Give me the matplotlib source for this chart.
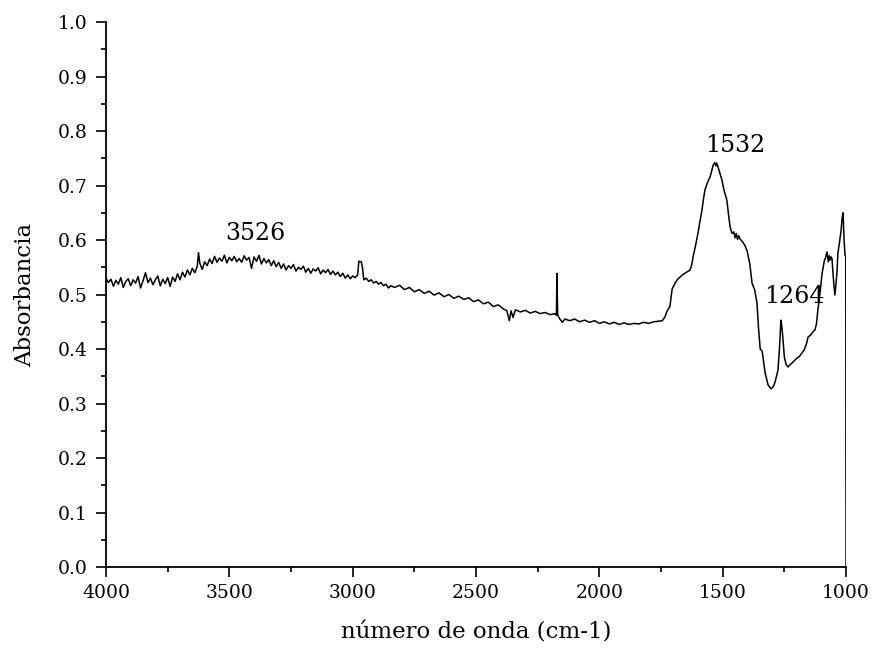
import matplotlib
matplotlib.use("Agg")
import matplotlib.pyplot as plt
from matplotlib.ticker import MultipleLocator

plt.rcParams['font.family'] = ['DejaVu Serif']

# Region 4000-2845 cm-1 (broad O-H band)
wn_a = [4000, 3990, 3980, 3970, 3960, 3950, 3940, 3930, 3920, 3910,
        3900, 3890, 3880, 3870, 3860, 3850, 3840, 3830, 3820, 3810,
        3800, 3790, 3780, 3770, 3760, 3750, 3740, 3730, 3720, 3710,
        3700, 3690, 3680, 3670, 3660, 3650, 3640, 3630, 3625, 3620,
        3610, 3600, 3590, 3580, 3570, 3560, 3550, 3540, 3530, 3520,
        3510, 3500, 3490, 3480, 3470, 3460, 3450, 3440, 3430, 3420,
        3410, 3400, 3390, 3380, 3370, 3360, 3350, 3340, 3330, 3320,
        3310, 3300, 3290, 3280, 3270, 3260, 3250, 3240, 3230, 3220,
        3210, 3200, 3190, 3180, 3170, 3160, 3150, 3140, 3130, 3120,
        3110, 3100, 3090, 3080, 3070, 3060, 3050, 3040, 3030, 3020,
        3010, 3000, 2990, 2980, 2975, 2965, 2960, 2955, 2945, 2935,
        2925, 2915, 2905, 2895, 2885, 2875, 2865, 2855, 2845]
abs_a = [0.530, 0.522, 0.528, 0.515, 0.526, 0.519, 0.531, 0.513, 0.524, 0.529,
         0.516, 0.527, 0.521, 0.533, 0.512, 0.525, 0.540, 0.522, 0.530, 0.518,
         0.527, 0.534, 0.516, 0.528, 0.520, 0.531, 0.515, 0.532, 0.524, 0.538,
         0.527, 0.541, 0.532, 0.545, 0.536, 0.548, 0.540, 0.552, 0.577, 0.558,
         0.546, 0.560, 0.553, 0.565, 0.557, 0.570, 0.559, 0.567, 0.561, 0.572,
         0.558, 0.568, 0.562, 0.570, 0.560, 0.566, 0.559, 0.571, 0.563, 0.568,
         0.548, 0.569, 0.561, 0.572, 0.556, 0.566, 0.558, 0.564, 0.553, 0.562,
         0.551, 0.559, 0.548, 0.556, 0.545, 0.553, 0.548, 0.555, 0.543, 0.550,
         0.546, 0.552, 0.541, 0.548, 0.539, 0.547, 0.543, 0.549, 0.538, 0.545,
         0.540, 0.546, 0.537, 0.543, 0.536, 0.541, 0.533, 0.539, 0.530, 0.536,
         0.529, 0.534, 0.531, 0.536, 0.561, 0.560, 0.548, 0.527, 0.530, 0.524,
         0.527, 0.521, 0.524, 0.519, 0.522, 0.516, 0.519, 0.512, 0.516]

# Region 2830-1760 cm-1 (sloping baseline, CO2 and 2172 spike)
wn_b = [2830, 2810, 2790, 2770, 2750, 2730, 2710, 2690, 2670, 2650,
        2630, 2610, 2590, 2570, 2550, 2530, 2510, 2490, 2470, 2450,
        2430, 2410, 2390, 2375, 2365, 2358, 2350, 2340, 2320, 2300,
        2280, 2260, 2240, 2220, 2200, 2180, 2174, 2172, 2169, 2160,
        2150, 2140, 2120, 2100, 2080, 2060, 2040, 2020, 2000, 1980,
        1960, 1940, 1920, 1900, 1880, 1860, 1840, 1820, 1800, 1780,
        1760]
abs_b = [0.513, 0.517, 0.509, 0.513, 0.505, 0.509, 0.502, 0.506, 0.499, 0.503,
         0.496, 0.500, 0.493, 0.497, 0.491, 0.494, 0.487, 0.490, 0.483, 0.486,
         0.478, 0.481, 0.474, 0.470, 0.452, 0.470, 0.458, 0.472, 0.468, 0.471,
         0.466, 0.469, 0.465, 0.467, 0.463, 0.465, 0.462, 0.539, 0.462, 0.455,
         0.449, 0.455, 0.452, 0.455, 0.450, 0.453, 0.449, 0.452, 0.447, 0.450,
         0.446, 0.449, 0.445, 0.448, 0.445, 0.447, 0.446, 0.449, 0.447, 0.450,
         0.451]

# Region 1745-1000 cm-1 (fingerprint bands)
wn_c = [1745, 1735, 1725, 1714, 1705, 1693, 1683, 1673, 1663, 1653,
        1643, 1632, 1625, 1620, 1610, 1600, 1592, 1584, 1578, 1572,
        1562, 1551, 1545, 1539, 1532, 1528, 1524, 1519, 1511, 1503,
        1495, 1483, 1476, 1470, 1462, 1455, 1450, 1445, 1440, 1435,
        1430, 1420, 1410, 1401, 1390, 1381, 1370, 1361, 1355, 1348,
        1340, 1328, 1316, 1304, 1295, 1288, 1276, 1270, 1264, 1260,
        1256, 1250, 1243, 1235, 1225, 1215, 1200, 1190, 1180, 1170,
        1160, 1154, 1145, 1135, 1126, 1120, 1114, 1105, 1097, 1088,
        1082, 1077, 1072, 1068, 1065, 1061, 1057, 1053, 1049, 1045,
        1041, 1037, 1033, 1027, 1020, 1016, 1012, 1008, 1004, 1001,
        1000]
abs_c = [0.452, 0.458, 0.470, 0.478, 0.510, 0.521, 0.528, 0.532, 0.536, 0.539,
         0.542, 0.545, 0.556, 0.569, 0.590, 0.613, 0.635, 0.655, 0.675, 0.692,
         0.705, 0.716, 0.726, 0.737, 0.742, 0.736, 0.741, 0.734, 0.722, 0.710,
         0.692, 0.673, 0.645, 0.624, 0.612, 0.615, 0.604, 0.612, 0.601, 0.608,
         0.602, 0.597, 0.590, 0.580, 0.556, 0.521, 0.508, 0.484, 0.440, 0.400,
         0.396, 0.356, 0.334, 0.327, 0.331, 0.339, 0.361, 0.400, 0.453, 0.440,
         0.420, 0.385, 0.372, 0.367, 0.372, 0.376, 0.383, 0.386, 0.392, 0.398,
         0.410, 0.422, 0.425, 0.431, 0.435, 0.446, 0.472, 0.505, 0.539, 0.562,
         0.569, 0.578, 0.560, 0.571, 0.563, 0.569, 0.566, 0.539, 0.515, 0.499,
         0.520, 0.539, 0.576, 0.594, 0.618, 0.640, 0.650, 0.600, 0.572, 0.570,
         0.0]

wavenumber = wn_a + wn_b + wn_c
absorbance = abs_a + abs_b + abs_c

x_ticks = [4000, 3500, 3000, 2500, 2000, 1500, 1000]
y_ticks = [0.0, 0.1, 0.2, 0.3, 0.4, 0.5, 0.6, 0.7, 0.8, 0.9, 1.0]
peak_labels = ["3526", "1532", "1264"]
label_x = [3396, 1450, 1211]
label_y = [0.612, 0.774, 0.497]

fig = plt.figure(figsize=(8.79, 6.49), dpi=100)
ax = fig.add_axes([0.1206, 0.1263, 0.8419, 0.8398])

ax.plot(wavenumber, absorbance, color='black', linewidth=1.1)

ax.set_xlim(4000, 1000)
ax.set_ylim(0.0, 1.0)
ax.set_xticks(x_ticks)
ax.set_xticklabels([str(t) for t in x_ticks])
ax.set_yticks(y_ticks)
ax.set_yticklabels([f"{t:.1f}" for t in y_ticks])
ax.xaxis.set_minor_locator(MultipleLocator(250))
ax.yaxis.set_minor_locator(MultipleLocator(0.05))

ax.spines['top'].set_visible(False)
ax.spines['right'].set_visible(False)
ax.spines['left'].set_linewidth(1.3)
ax.spines['bottom'].set_linewidth(1.3)
ax.tick_params(which='major', direction='out', length=7, width=1.2, labelsize=13.5)
ax.tick_params(axis='y', which='major', pad=6)
ax.tick_params(axis='x', which='major', pad=5)
ax.tick_params(which='minor', direction='out', length=3.5, width=1.2)

for lab, lx, ly in zip(peak_labels, label_x, label_y):
    ax.text(lx, ly, lab, ha='center', va='center', fontsize=17)

ax.set_xlabel("número de onda (cm-1)", fontsize=16.5, labelpad=14)
ax.set_ylabel("Absorbancia", fontsize=16.5, labelpad=16)

fig.savefig("out.png", dpi=100)
